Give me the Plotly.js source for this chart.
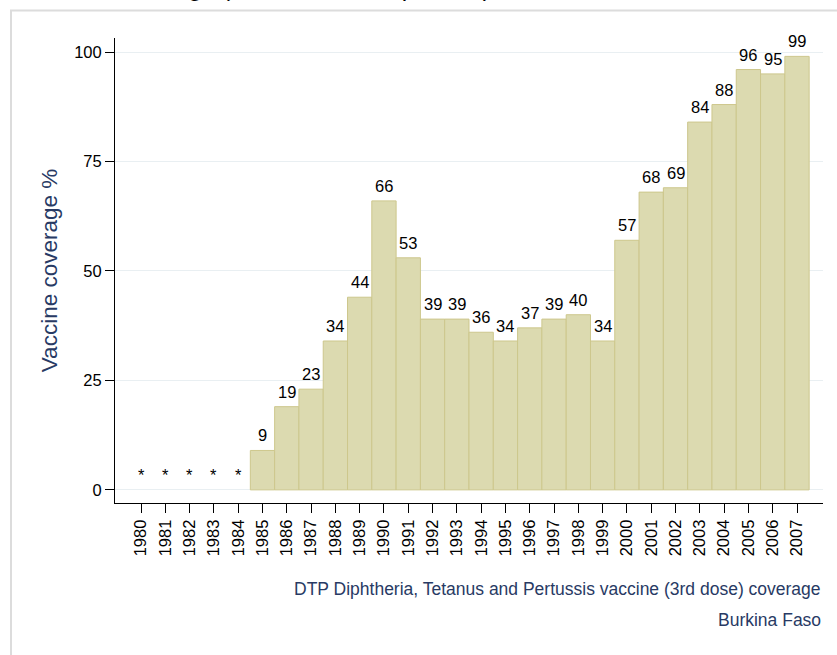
<!DOCTYPE html>
<html>
<head>
<meta charset="utf-8">
<script src="https://cdn.plot.ly/plotly-3.0.1.min.js"></script>
<style>html,body{margin:0;padding:0;background:#fff;}#chart{width:837px;height:655px;}</style>
</head>
<body>
<div id="chart"></div>
<script>
// Data
var years = [1980,1981,1982,1983,1984,1985,1986,1987,1988,1989,1990,1991,1992,1993,1994,1995,1996,1997,1998,1999,2000,2001,2002,2003,2004,2005,2006,2007];
var coverage = [null,null,null,null,null,9,19,23,34,44,66,53,39,39,36,34,37,39,40,34,57,68,69,84,88,96,95,99];
var yTicks = [0,25,50,75,100];
var titleText = 'Vaccine coverage (% of all infants, percent)';
var yTitle = 'Vaccine coverage %';
var note1 = 'DTP Diphtheria, Tetanus and Pertussis vaccine (3rd dose) coverage';
var note2 = 'Burkina Faso';
var missingMark = '*';

var FONT = 'Liberation Sans, Arial, Helvetica, sans-serif';
var NAVY = '#283a64';

var trace = {
  type: 'bar',
  x: years,
  y: coverage,
  width: 1,
  marker: {color: '#dcdab0', line: {color: '#cdc78c', width: 1}},
  hoverinfo: 'x+y'
};

var annotations = [];
for (var i = 0; i < years.length; i++) {
  var v = coverage[i];
  annotations.push({
    x: years[i], y: (v === null ? 0 : v), xref: 'x', yref: 'y',
    text: (v === null ? missingMark : String(v)),
    showarrow: false, xanchor: 'center', yanchor: 'bottom', yshift: 4,
    font: {family: FONT, size: 16.5, color: '#000'}
  });
}
annotations.push({
  xref: 'paper', yref: 'paper', x: -0.131, y: 1.0755, xanchor: 'left', yanchor: 'bottom',
  text: titleText, showarrow: false, font: {family: FONT, size: 24.3, color: '#000'}
});
annotations.push({
  xref: 'paper', yref: 'paper', x: 1, y: -0.185, xanchor: 'right', yanchor: 'middle',
  text: note1, showarrow: false, font: {family: FONT, size: 17.5, color: NAVY}
});
annotations.push({
  xref: 'paper', yref: 'paper', x: 1, y: -0.2516, xanchor: 'right', yanchor: 'middle',
  text: note2, showarrow: false, font: {family: FONT, size: 17.5, color: NAVY}
});

var layout = {
  width: 837, height: 655,
  margin: {l: 115, r: 14, t: 38, b: 152, pad: 0},
  paper_bgcolor: '#fff', plot_bgcolor: '#fff',
  showlegend: false,
  bargap: 0,
  font: {family: FONT, size: 16.5, color: '#000'},
  xaxis: {
    type: 'linear',
    range: [1978.93, 2008.07],
    tickmode: 'array', tickvals: years, ticktext: years.map(String),
    showline: true, linecolor: '#000', linewidth: 1,
    ticks: 'outside', ticklen: 9, tickcolor: '#000', tickwidth: 1,
    tickangle: -90,
    tickfont: {family: FONT, size: 16.5, color: '#000'},
    showgrid: false, zeroline: false, fixedrange: true
  },
  yaxis: {
    range: [-3, 103.2],
    tickvals: yTicks, ticktext: yTicks.map(String),
    showline: true, linecolor: '#000', linewidth: 1,
    ticks: 'outside', ticklen: 9, tickcolor: '#000', tickwidth: 1,
    tickfont: {family: FONT, size: 16.5, color: '#000'},
    showgrid: true, gridcolor: '#e9eff2', gridwidth: 1,
    zeroline: false, fixedrange: true,
    title: {text: yTitle, font: {family: FONT, size: 22.5, color: NAVY}, standoff: 10}
  },
  annotations: annotations,
  shapes: [{
    type: 'rect', xref: 'paper', yref: 'paper',
    x0: -0.1469, x1: 2, y0: -2, y1: 1.0592,
    line: {color: '#dcdcdc', width: 2}, fillcolor: 'rgba(0,0,0,0)', layer: 'below'
  }]
};

Plotly.newPlot('chart', [trace], layout, {displayModeBar: false, staticPlot: true});
</script>
</body>
</html>
